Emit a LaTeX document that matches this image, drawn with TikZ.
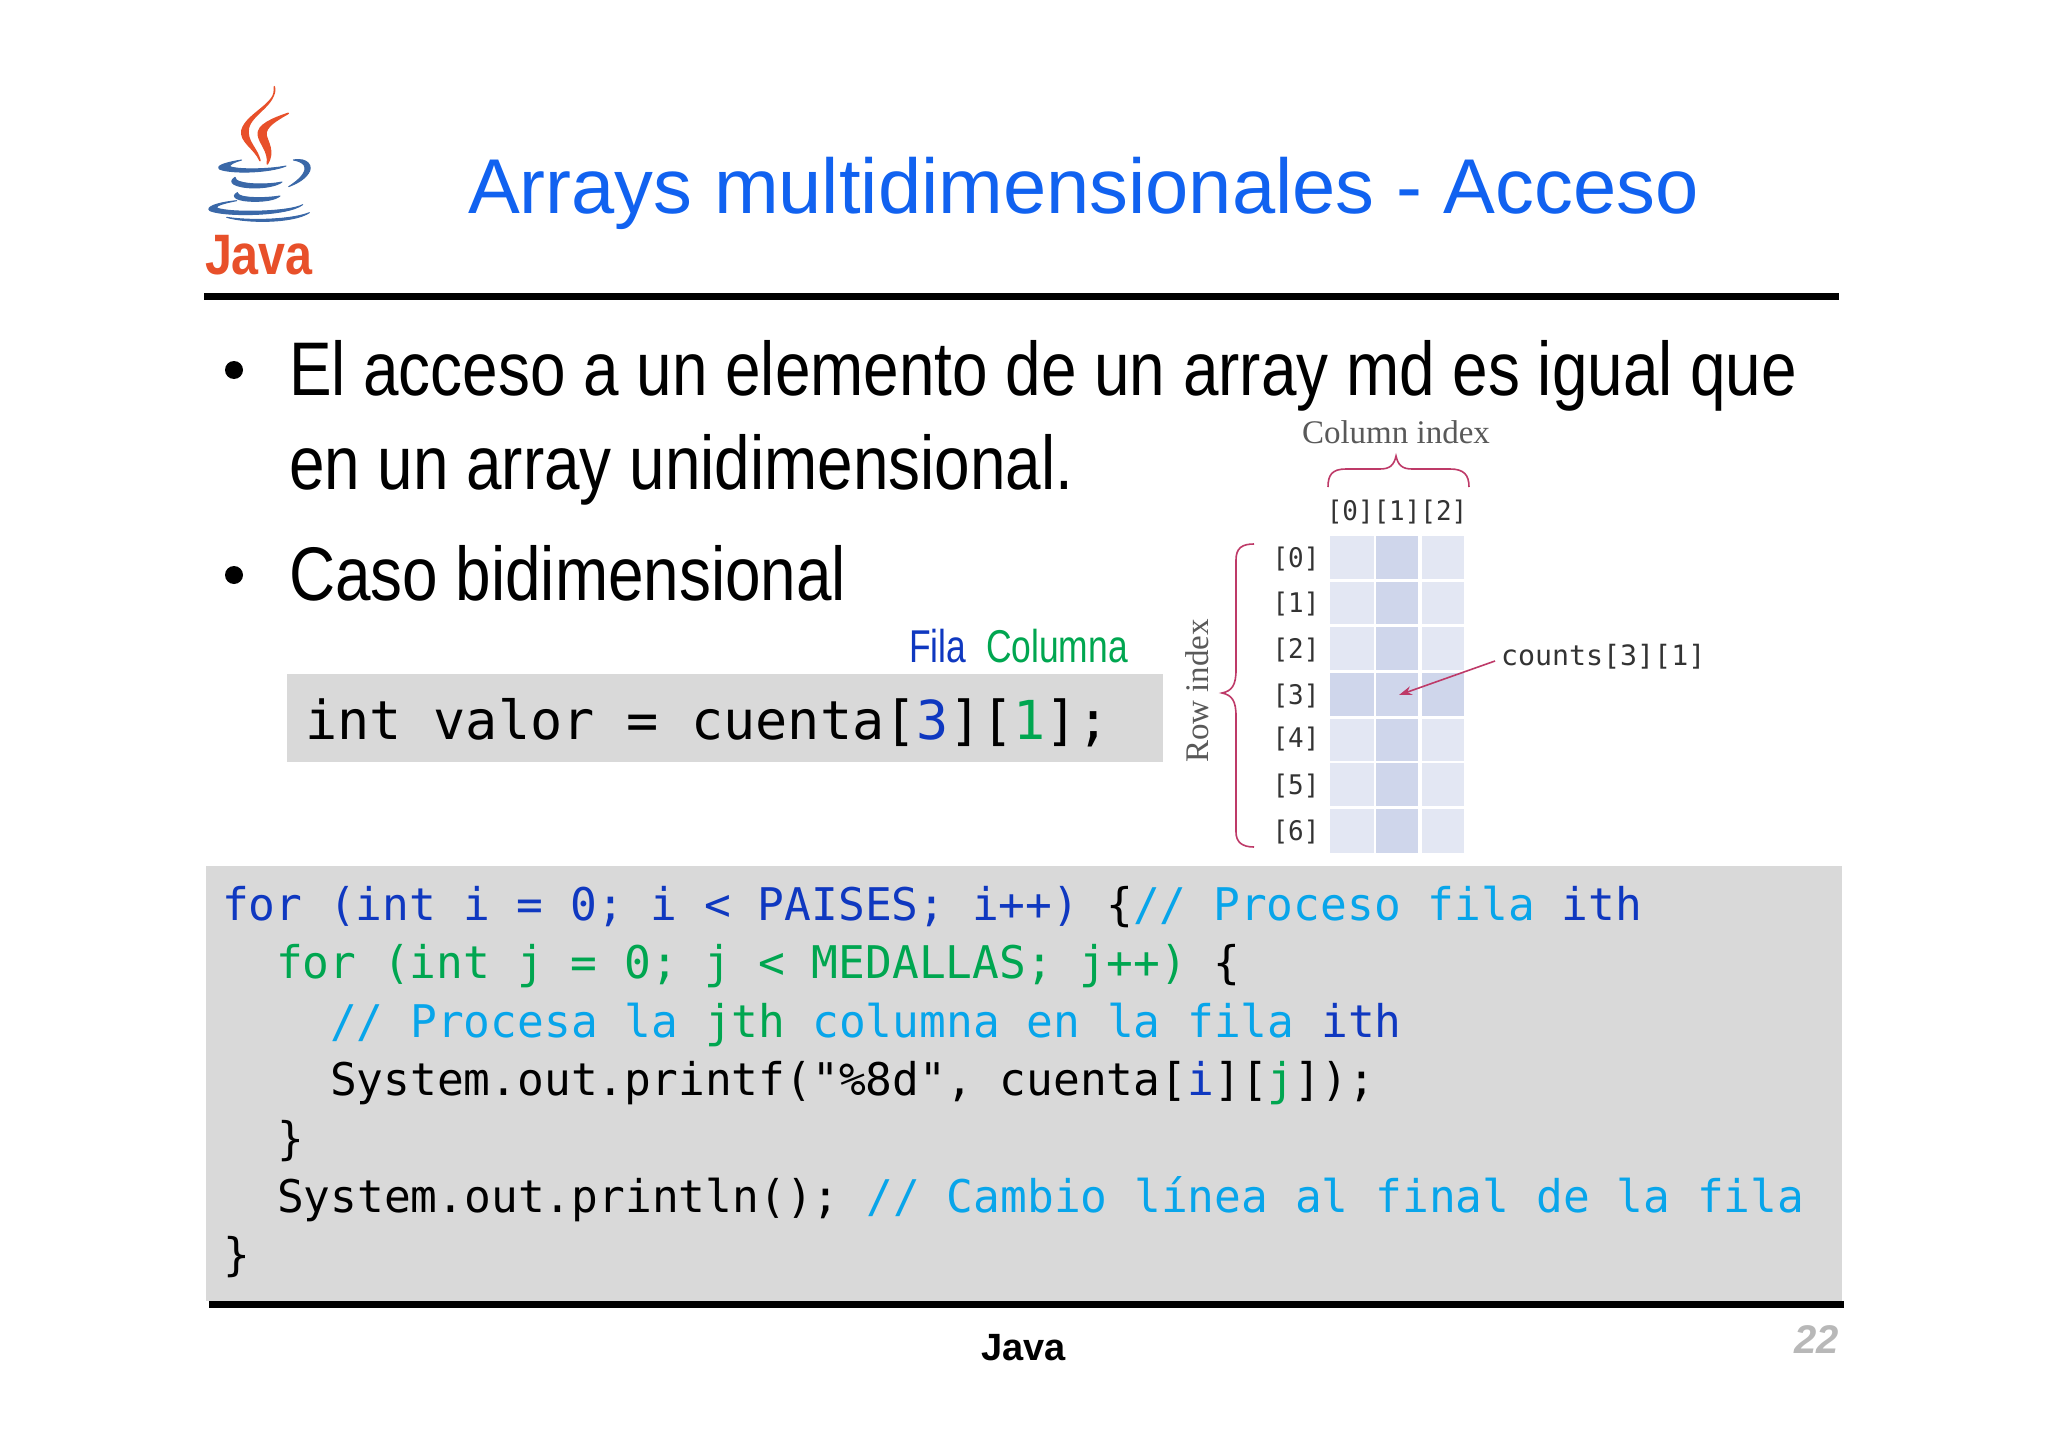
\documentclass[tikz,border=0pt]{standalone}
\usepackage{fontspec}
\usetikzlibrary{arrows.meta}
\setmainfont{Liberation Sans}
\newfontfamily\bodyf[FakeStretch=.84]{Liberation Sans}
\newfontfamily\labelf[FakeStretch=.77]{Liberation Sans}
\newfontfamily\codef[FakeStretch=.989]{DejaVu Sans Mono}
\newfontfamily\bigcodef[FakeStretch=.996]{DejaVu Sans Mono}
\newfontfamily\idxf[FakeStretch=.96]{DejaVu Sans Mono}
\newfontfamily\countsf[FakeStretch=1.01]{DejaVu Sans Mono}
\newfontfamily\serf{Liberation Serif}
\newfontfamily\logof[FakeStretch=.85]{Liberation Sans}
\definecolor{titleblue}{HTML}{1162F0}
\definecolor{kblue}{HTML}{0F38C0}
\definecolor{kgreen}{HTML}{00A650}
\definecolor{kcyan}{HTML}{08A5EA}
\definecolor{boxgray}{HTML}{D9D9D9}
\definecolor{celllight}{HTML}{E3E7F3}
\definecolor{celldark}{HTML}{CFD6EB}
\definecolor{crim}{HTML}{BE3A68}
\definecolor{flame}{HTML}{E8502A}
\definecolor{cup}{HTML}{3A68A8}
\tikzset{
  txt/.style={anchor=base west,inner sep=0pt,outer sep=0pt},
  bodytxt/.style={txt,text=black,font=\bodyf\fontsize{76}{76}\selectfont},
  codetxt/.style={txt,text=black,font=\codef\fontsize{45}{45}\selectfont\frenchspacing},
  bigcode/.style={txt,text=black,font=\bigcodef\fontsize{53.7}{53.7}\selectfont\frenchspacing},
  idx/.style={anchor=base,inner sep=0pt,text=black!80,font=\idxf\fontsize{27}{27}\selectfont},
  bulletdot/.style={circle,fill=black,inner sep=0pt,minimum size=18pt},
  rule/.style={fill=black},
  bracepath/.style={draw=crim,line width=1.6pt},
  flamepart/.style={fill=flame,draw=flame,line width=1.5pt,line join=round},
  cuppart/.style={fill=cup,draw=cup,line width=1pt,line join=round},
}
\newcommand{\bl}[1]{\textcolor{kblue}{#1}}
\newcommand{\gr}[1]{\textcolor{kgreen}{#1}}
\newcommand{\cy}[1]{\textcolor{kcyan}{#1}}
\begin{document}
\begin{tikzpicture}[x=1pt,y=-1pt]
\useasboundingbox (0,0) rectangle (2048,1447);
\fill[white] (0,0) rectangle (2048,1447);
% logo
\begin{scope}[shift={(180,70)},scale=1/3]
\path[flamepart] (283,50) .. controls (296,100) and (200,130) .. (186,180) .. controls (178,215) and (225,235) .. (240,272) .. controls (232,235) and (198,215) .. (205,175) .. controls (215,130) and (290,105) .. (283,50) -- cycle;
\path[flamepart] (325,130) .. controls (280,145) and (230,165) .. (235,195) .. controls (238,220) and (268,245) .. (262,282) .. controls (285,245) and (262,215) .. (258,195) .. controls (255,170) and (290,150) .. (325,130) -- cycle;
\path[cuppart] (185,270) .. controls (135,278) and (105,288) .. (120,298) .. controls (160,312) and (270,308) .. (318,288) .. controls (270,298) and (175,300) .. (150,290) .. controls (145,285) and (165,275) .. (185,270) -- cycle;
\path[cuppart] (340,270) .. controls (385,262) and (400,290) .. (385,310) .. controls (370,332) and (345,342) .. (326,350) .. controls (355,332) and (385,305) .. (372,285) .. controls (365,275) and (350,272) .. (340,270) -- cycle;
\path[cuppart] (165,322) .. controls (140,338) and (165,352) .. (220,354) .. controls (255,354) and (290,348) .. (306,336) .. controls (270,344) and (205,344) .. (180,335) .. controls (170,332) and (165,328) .. (165,322) -- cycle;
\path[cuppart] (172,368) .. controls (150,380) and (170,394) .. (225,394) .. controls (255,394) and (285,390) .. (300,378) .. controls (265,384) and (210,385) .. (185,378) .. controls (178,376) and (172,372) .. (172,368) -- cycle;
\path[cuppart] (170,392) .. controls (110,398) and (75,412) .. (90,422) .. controls (130,440) and (320,440) .. (368,404) .. controls (330,426) and (150,430) .. (110,414) .. controls (105,406) and (140,398) .. (170,392) -- cycle;
\path[cuppart] (140,442) .. controls (200,460) and (340,460) .. (388,428) .. controls (340,448) and (220,454) .. (140,442) -- cycle;
\end{scope}
\node[txt,text=flame,font=\logof\bfseries\fontsize{57}{57}\selectfont] (logotext) at (205,275) {Java};
% title
\node[txt,text=titleblue,font=\fontsize{77.7}{78}\selectfont] (title) at (468,214) {Arrays multidimensionales - Acceso};
\fill[rule] (204,293) rectangle (1839,300);
% bullets
\node[bulletdot] (b1) at (234,370) {};
\node[bodytxt] (l1) at (289,395) {El acceso a un elemento de un array md es igual que};
\node[bodytxt] (l2) at (289,489) {en un array unidimensional.};
\node[bulletdot] (b2) at (234,575) {};
\node[bodytxt] (l3) at (289,600) {Caso bidimensional};
% Access box
\fill[boxgray] (287,674) rectangle (1163,762);
\node[txt,text=kblue,font=\labelf\fontsize{46}{46}\selectfont] (fila) at (909,662) {Fila};
\node[txt,text=kgreen,font=\labelf\fontsize{46}{46}\selectfont] (col) at (986,662) {Columna};
\node[bigcode] (acc) at (305,739) {int valor = cuenta[\bl{3}][\gr{1}];};
% grid
\foreach \ya/\yb in {536/579,582/624,627/670,719/761,763/806,809/853}{
  \fill[celllight] (1330,\ya) rectangle (1374,\yb);
  \fill[celldark] (1376,\ya) rectangle (1418,\yb);
  \fill[celllight] (1421.5,\ya) rectangle (1464,\yb);
}
\fill[celldark] (1330,673) rectangle (1374,716);
\fill[celldark] (1376,673) rectangle (1418,716);
\fill[celldark] (1421.5,673) rectangle (1464,716);
\foreach \n/\y in {0/567,1/612,2/658,3/704,4/747,5/794,6/840}{
  \node[idx] (r\n) at (1296,\y) {[\n]};
}
\node[idx] (cols) at (1397,520) {[0][1][2]};
\node[txt,text=black!80,font=\countsf\fontsize{28}{28}\selectfont] (counts) at (1501,665) {counts[3][1]};
\coordinate (cell31) at (1399,695);
\coordinate (arrstart) at (1495,661);
\draw[crim,line width=1.6pt,-{Stealth[length=13pt,width=9pt]}] (arrstart) -- (cell31);
% braces
\path[bracepath] (1328,487) .. controls (1328,475) and (1332,469) .. (1346,469) -- (1380,469) .. controls (1390,469) and (1394,465) .. (1396,456) .. controls (1398,465) and (1402,469) .. (1412,469) -- (1450,469) .. controls (1464,469) and (1469,475) .. (1469,487);
\path[bracepath] (1254,544) .. controls (1242,544) and (1236,548) .. (1236,560) -- (1236,670) .. controls (1236,685) and (1232,691) .. (1222,693) .. controls (1232,695) and (1236,701) .. (1236,716) -- (1236,832) .. controls (1236,842) and (1242,847) .. (1254,847);
\node[anchor=base,inner sep=0pt,text=black!65,font=\serf\fontsize{33}{33}\selectfont] (colidx) at (1396,443) {Column index};
\node[anchor=base,inner sep=0pt,rotate=90,text=black!65,font=\serf\fontsize{33}{33}\selectfont] (rowidx) at (1208,691) {Row index};
% code
\fill[boxgray] (206,866) rectangle (1842,1301);
\node[codetxt] (c1) at (222,920) {\bl{for (int i = 0; i < PAISES; i++)} \{\cy{// Proceso fila} \bl{ith}};
\node[codetxt] (c2) at (276,978) {\gr{for (int j = 0; j < MEDALLAS; j++)} \{};
\node[codetxt] (c3) at (330,1037) {\cy{// Procesa la} \gr{jth} \cy{columna en la fila} \bl{ith}};
\node[codetxt] (c4) at (330,1095) {System.out.printf("\%8d", cuenta[\bl{i}][\gr{j}]);};
\node[codetxt] (c5) at (277,1154) {\}};
\node[codetxt] (c6) at (277,1212) {System.out.println(); \cy{// Cambio línea al final de la fila}};
\node[codetxt] (c7) at (223,1270) {\}};
\fill[rule] (209,1301) rectangle (1844,1308);
% footer
\node[txt,font=\bfseries\fontsize{38}{38}\selectfont] (foot) at (981,1360) {Java};
\node[txt,text=black!28,font=\bfseries\itshape\fontsize{40}{40}\selectfont] (page) at (1794,1353) {22};
\end{tikzpicture}
\end{document}
